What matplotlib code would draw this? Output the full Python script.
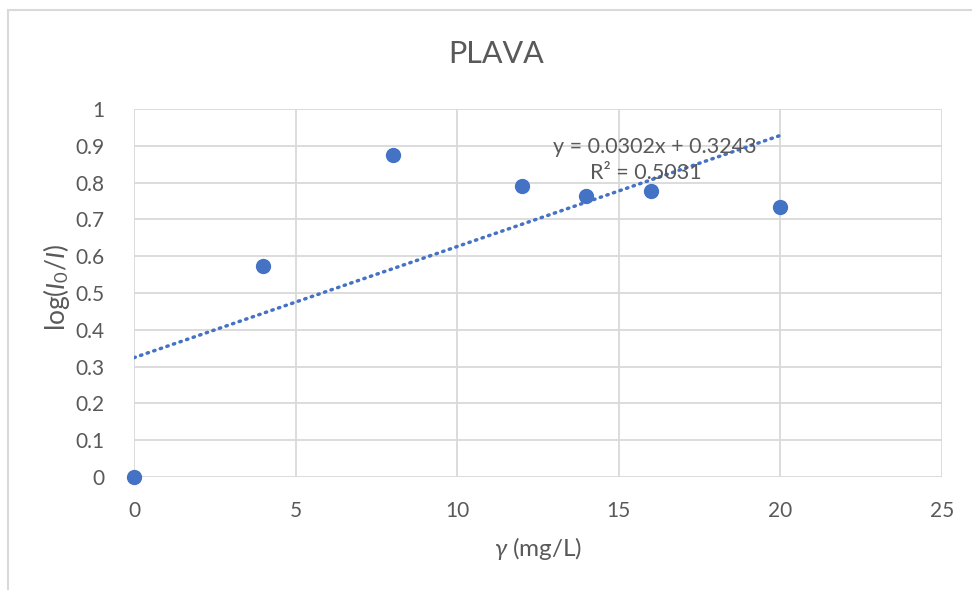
import numpy as np
import matplotlib.pyplot as plt
from matplotlib.patches import Rectangle

# data
gamma = [0, 4, 8, 12, 14, 16, 20]
absorb = [0.0, 0.573, 0.874, 0.790, 0.763, 0.776, 0.735]
slope = 0.0302
intercept = 0.3243
r2 = 0.5031
x_ticks = [0, 5, 10, 15, 20, 25]
y_ticks = [0, 0.1, 0.2, 0.3, 0.4, 0.5, 0.6, 0.7, 0.8, 0.9, 1]

blue = "#4472C4"
txt = "#595959"
grid = "#d9d9d9"

plt.rcParams["font.family"] = ["Lato", "DejaVu Sans"]
plt.rcParams["mathtext.fontset"] = "custom"
plt.rcParams["mathtext.rm"] = "Lato"
plt.rcParams["mathtext.it"] = "Lato:italic"

fig = plt.figure(figsize=(9.72, 5.9), dpi=100)
ax = fig.add_axes([134 / 972, 1 - 477 / 590, 808 / 972, 368 / 590])

# outer chart border
fig.patches.append(Rectangle((8 / 972, -0.1), 1.2, 1 - 10 / 590 + 0.1,
                             transform=fig.transFigure, fill=False,
                             edgecolor=grid, linewidth=1.5))

ax.set_xlim(0, 25)
ax.set_ylim(0, 1)
ax.set_xticks(x_ticks)
ax.set_yticks(y_ticks)
ax.set_xticklabels([str(t) for t in x_ticks])
ax.set_yticklabels(["0", "0.1", "0.2", "0.3", "0.4", "0.5", "0.6", "0.7", "0.8", "0.9", "1"])
ax.grid(True, color=grid, linewidth=1.3)
ax.set_axisbelow(True)
for s in ax.spines.values():
    s.set_visible(False)
ax.tick_params(length=0, labelsize=15, colors=txt)
ax.tick_params(axis="x", pad=17)
ax.tick_params(axis="y", pad=21)

# trendline
xl = np.array([0, 20])
ax.plot(xl, slope * xl + intercept, color=blue, linewidth=2.5,
        linestyle=(0, (0.4, 1.6)), dash_capstyle="round", zorder=2)

ax.scatter(gamma, absorb, s=100, color=blue, zorder=3, clip_on=False)

ax.text(16.1, 0.898, f"y = {slope}x + {intercept}", fontsize=15.5, color=txt,
        ha="center", va="center")
ax.text(15.85, 0.825, f"R² = {r2}", fontsize=15.5, color=txt,
        ha="center", va="center")

fig.text(496 / 972, 1 - 54 / 590, "PLAVA", fontsize=22, color=txt,
         ha="center", va="center")
ax.set_xlabel(r"$\gamma$ (mg/L)", fontsize=17.5, color=txt)
ax.set_ylabel(r"log($I_0$/$I$)", fontsize=19, color=txt)
ax.xaxis.set_label_coords(0.5, -0.193)
ax.yaxis.set_label_coords(-0.0965, 0.514)
ax.xaxis.label.set_va("center")
ax.yaxis.label.set_va("center")

fig.savefig("out.png", dpi=100)
